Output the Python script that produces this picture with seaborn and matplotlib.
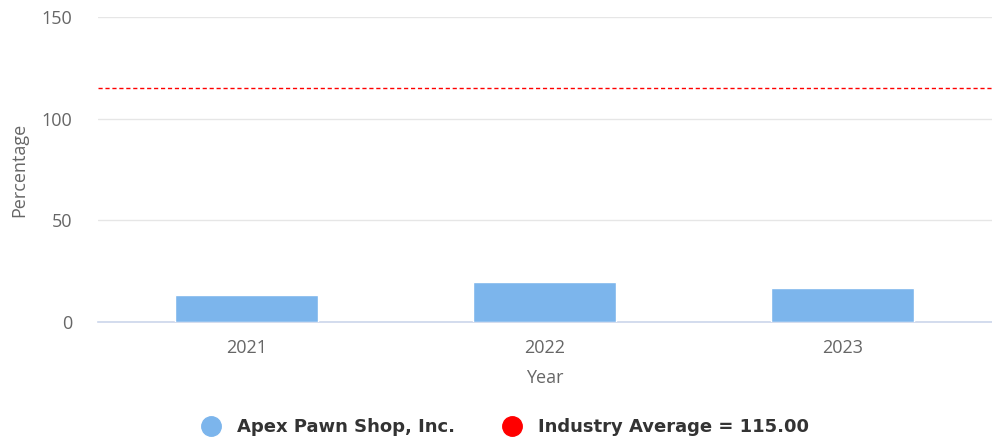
import matplotlib
matplotlib.use("Agg")
import matplotlib.pyplot as plt
from matplotlib.lines import Line2D
import seaborn as sns
import pandas as pd

years = ["2021", "2022", "2023"]
values = [13.3, 19.6, 16.5]
industry_average = 115.0
company = "Apex Pawn Shop, Inc."
y_ticks = [0, 50, 100, 150]

sns.set_theme(style="white")
plt.rcParams["font.family"] = ["Open Sans", "DejaVu Sans"]

df = pd.DataFrame({"Year": years, "Percentage": values})

fig = plt.figure(figsize=(9.92, 4.38), dpi=100)
ax = fig.add_axes([97.5 / 992, 1 - 322 / 438, 1 - 97.5 / 992, (322 - 17) / 438])

sns.barplot(data=df, x="Year", y="Percentage", color="#7cb5ec", width=0.48,
            saturation=1, ax=ax, zorder=3)

ax.axhline(industry_average, color="#ff0000", linestyle=(0, (3, 2)), linewidth=1, zorder=4)

ax.set_ylim(0, 150)
ax.set_xlim(-0.5, 2.46)
ax.set_yticks(y_ticks)
ax.yaxis.grid(True, color="#e6e6e6", linewidth=1, zorder=0)
ax.set_axisbelow(True)

for s in ["top", "right", "left"]:
    ax.spines[s].set_visible(False)
ax.spines["bottom"].set_color("#ccd6eb")
ax.spines["bottom"].set_linewidth(1.2)

ax.set_xticks([0, 1, 2])
ax.set_xticklabels(years)
ax.tick_params(axis="x", length=0, pad=12, labelsize=13, labelcolor="#666666")
ax.tick_params(axis="y", length=0, pad=18, labelsize=13, labelcolor="#666666")
# category boundary ticks
ax.set_xticks([-0.5, 0.5, 1.5, 2.5], minor=True)
ax.tick_params(axis="x", which="minor", length=16, width=1, color="#ccd6eb")

ax.set_xlabel("Year", fontsize=13, color="#666666", labelpad=9)
ax.set_ylabel("Percentage", fontsize=13, color="#666666", labelpad=10)

handles = [
    Line2D([0], [0], marker="o", linestyle="none", markersize=14,
           markerfacecolor="#7cb5ec", markeredgecolor="#7cb5ec", label=company),
    Line2D([0], [0], marker="o", linestyle="none", markersize=14,
           markerfacecolor="#ff0000", markeredgecolor="#ff0000",
           label=f"Industry Average = {industry_average:.2f}"),
]
leg = fig.legend(handles=handles, loc="center", bbox_to_anchor=(0.505, 0.025),
                 ncol=2, frameon=False, handletextpad=0.4, columnspacing=2.2,
                 prop={"family": ["DejaVu Sans"], "weight": "bold", "size": 13})
for t in leg.get_texts():
    t.set_color("#333333")

fig.savefig("out.png", dpi=100)
